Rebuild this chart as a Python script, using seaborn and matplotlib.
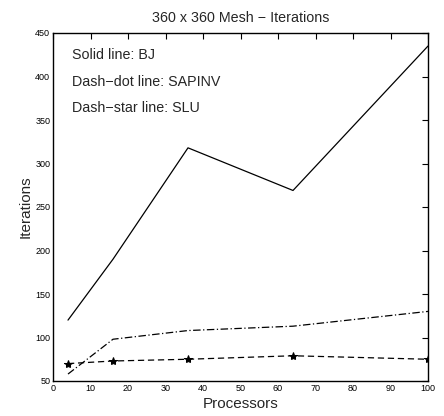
import matplotlib
matplotlib.use("Agg")
import matplotlib.pyplot as plt
import seaborn as sns
import pandas as pd

processors = [4, 16, 36, 64, 100]
bj = [120, 190, 318, 269, 435]
sapinv = [58, 98, 108, 113, 130]
slu = [70, 73, 75, 79, 75]

sns.set_style("white")
plt.rcParams['font.family'] = ['Liberation Sans', 'DejaVu Sans']

fig = plt.figure(figsize=(4.44, 4.16), dpi=100)
ax = fig.add_axes([53/444, 1-381/416, (428-53)/444, (381-33)/416])

df = pd.DataFrame({"p": processors, "bj": bj, "sapinv": sapinv, "slu": slu})
sns.lineplot(data=df, x="p", y="bj", ax=ax, color="black", lw=0.9)
sns.lineplot(data=df, x="p", y="sapinv", ax=ax, color="black", lw=0.9,
             linestyle=(0, (6, 2, 1, 2)))
sns.lineplot(data=df, x="p", y="slu", ax=ax, color="black", lw=0.9,
             linestyle=(0, (5, 3)), marker="*", markersize=6, markeredgecolor="black")

ax.set_xlim(0, 100)
ax.set_ylim(50, 450)
ax.set_xticks(range(0, 101, 10))
ax.set_yticks(range(50, 451, 50))
ax.tick_params(direction="in", length=4, width=0.8, labelsize=6.5, top=True, right=True,
               pad=2, colors="black")
for s in ax.spines.values():
    s.set_color("black")
    s.set_linewidth(1.0)
ax.set_xlabel("Processors", fontsize=11, labelpad=3)
ax.set_ylabel("Iterations", fontsize=11, labelpad=2)
ax.set_title("360 x 360 Mesh \u2212 Iterations", fontsize=10.3, pad=8)

ax.text(0.05, 0.937, "Solid line: BJ", transform=ax.transAxes, fontsize=10.3, va="center")
ax.text(0.05, 0.858, "Dash\u2212dot line: SAPINV", transform=ax.transAxes, fontsize=10.3, va="center")
ax.text(0.05, 0.785, "Dash\u2212star line: SLU", transform=ax.transAxes, fontsize=10.3, va="center")

fig.savefig("out.png", dpi=100)
